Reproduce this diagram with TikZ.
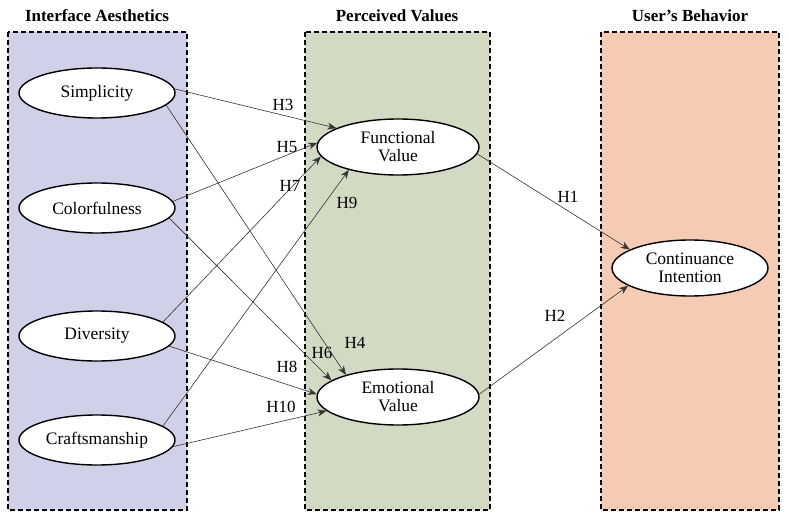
\documentclass[tikz,border=0pt]{standalone}
\usepackage{fontspec}
\setmainfont{Liberation Serif}
\usetikzlibrary{shapes.geometric,arrows.meta}
\definecolor{lav}{RGB}{208,208,232}
\definecolor{sage}{RGB}{211,218,196}
\definecolor{peach}{RGB}{245,203,180}
\begin{document}
\begin{tikzpicture}[x=1pt,y=-1pt,
  panel/.style={draw=black,dash pattern=on 5pt off 3pt,line width=1.4pt},
  ttl/.style={font=\fontsize{17}{19}\selectfont\bfseries},
  ell/.style={ellipse,draw=black,fill=white,line width=1.4pt,minimum width=156pt,minimum height=50pt,inner sep=0pt,align=center,font=\fontsize{17.5}{19}\selectfont},
  arr/.style={draw=black!80,line width=0.6pt,-{Stealth[length=9pt,width=7pt]}},
  lbl/.style={font=\fontsize{17}{19}\selectfont}]
\useasboundingbox (0,0) rectangle (789,521);
\fill[white] (0,0) rectangle (789,521);
\filldraw[panel,fill=lav] (8,32) rectangle (187,510);
\filldraw[panel,fill=sage] (305,32) rectangle (490,510);
\filldraw[panel,fill=peach] (601,32) rectangle (779,510);
\node[ttl] (t1) at (97,16) {Interface Aesthetics};
\node[ttl] (t2) at (397,16) {Perceived Values};
\node[ttl] (t3) at (690,16) {User’s Behavior};
\node[ell] (s) at (97,93) {Simplicity};
\node[ell] (c) at (97,208) {Colorfulness};
\node[ell] (d) at (97,336) {Diversity};
\node[ell] (k) at (97,440) {Craftsmanship};
\node[ell,minimum width=162pt,minimum height=56pt] (f) at (398,147) {Functional\\[-1pt]Value};
\node[ell,minimum width=162pt,minimum height=56pt] (e) at (398,397) {Emotional\\[-1pt]Value};
\node[ell,minimum width=156pt,minimum height=56pt] (ci) at (690,268) {Continuance\\[-1pt]Intention};
\draw[arr] (s.3) -- (f.163);
\draw[arr] (s.-10) -- (e.157);
\draw[arr] (c.5) -- (f.177);
\draw[arr] (c.-8) -- (e.166);
\draw[arr] (d.12) -- (f.187);
\draw[arr] (d.-8) -- (e.178);
\draw[arr] (k.12) -- (f.205);
\draw[arr] (k.-5) -- (e.191);
\draw[arr] (f.-5) -- (ci.163);
\draw[arr] (e.2) -- (ci.196);
\node[lbl] (h3) at (283,105) {H3};
\node[lbl] (h5) at (287,147) {H5};
\node[lbl] (h7) at (290,186) {H7};
\node[lbl] (h9) at (347,203) {H9};
\node[lbl] (h4) at (355,343) {H4};
\node[lbl] (h6) at (322,353) {H6};
\node[lbl] (h8) at (287,367) {H8};
\node[lbl] (h10) at (281,407) {H10};
\node[lbl] (h1) at (568,197) {H1};
\node[lbl] (h2) at (555,316) {H2};
\end{tikzpicture}
\end{document}
